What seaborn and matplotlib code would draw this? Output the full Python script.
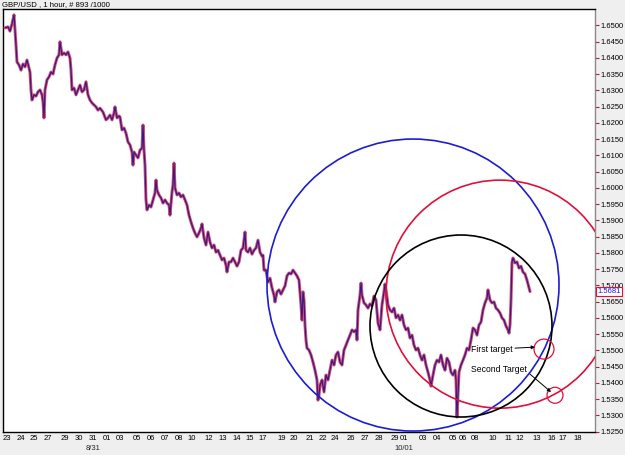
import numpy as np
import pandas as pd
import matplotlib
matplotlib.use("Agg")
import matplotlib.pyplot as plt
import seaborn as sns
from matplotlib.patches import Ellipse
from matplotlib import transforms

# ---------------- data (hourly bar position, close price) ----------------
bar = [2, 5, 7, 9, 11, 12, 13, 14, 16, 18, 20, 22, 24, 26, 27, 28, 29, 31, 33, 35,
       37, 39, 40, 41, 42, 44, 46, 48, 50, 52, 54, 56, 57, 59, 61, 63, 65, 67, 68, 69,
       71, 73, 75, 77, 79, 81, 83, 85, 87, 89, 91, 93, 95, 97, 100, 103, 105, 107, 109, 111,
       112, 114, 116, 117, 119, 121, 123, 125, 127, 129, 130, 131, 133, 135, 137, 139, 140, 141, 142, 143,
       144, 146, 148, 150, 152, 153, 154, 156, 158, 160, 162, 164, 166, 167, 169, 170, 171, 172, 174, 176,
       178, 180, 182, 184, 186, 188, 190, 192, 194, 196, 198, 199, 201, 203, 205, 207, 209, 211, 213, 215,
       217, 219, 221, 223, 224, 226, 228, 230, 232, 234, 236, 238, 240, 242, 243, 245, 247, 249, 251, 253,
       255, 257, 259, 260, 261, 263, 265, 267, 269, 271, 272, 274, 276, 278, 280, 282, 284, 286, 288, 290,
       292, 294, 296, 297, 298, 299, 300, 301, 302, 303, 304, 306, 308, 310, 312, 314, 315, 316, 317, 319,
       321, 323, 325, 327, 329, 331, 333, 335, 337, 339, 341, 343, 345, 347, 349, 351, 353, 354, 355, 357,
       358, 359, 361, 363, 365, 367, 369, 371, 373, 375, 377, 379, 381, 382, 383, 385, 387, 389, 391, 393,
       395, 397, 399, 401, 403, 405, 407, 409, 411, 413, 415, 417, 419, 421, 423, 425, 427, 428, 430, 432,
       434, 436, 438, 440, 442, 444, 446, 448, 450, 452, 453, 454, 455, 456, 458, 460, 462, 464, 466, 468,
       470, 472, 474, 476, 478, 480, 482, 484, 485, 487, 489, 491, 493, 495, 497, 499, 501, 503, 505, 506,
       507, 508, 509, 510, 512, 514, 516, 518, 520, 522, 524, 526, 527]
price = [1.6492, 1.6495, 1.6482, 1.6504, 1.6532, 1.6486, 1.6439, 1.6387, 1.6378, 1.6362,
         1.6381, 1.6372, 1.6393, 1.6369, 1.6356, 1.6301, 1.6270, 1.6286, 1.6282, 1.6295,
         1.6301, 1.6286, 1.6264, 1.6215, 1.6301, 1.6332, 1.6341, 1.6356, 1.6350, 1.6378,
         1.6399, 1.6409, 1.6449, 1.6409, 1.6415, 1.6409, 1.6418, 1.6399, 1.6362, 1.6301,
         1.6307, 1.6286, 1.6301, 1.6316, 1.6295, 1.6301, 1.6326, 1.6286, 1.6270, 1.6261,
         1.6255, 1.6249, 1.6239, 1.6245, 1.6233, 1.6209, 1.6215, 1.6224, 1.6209, 1.6230,
         1.6249, 1.6215, 1.6221, 1.6218, 1.6178, 1.6184, 1.6168, 1.6141, 1.6132, 1.6110,
         1.6070, 1.6110, 1.6101, 1.6092, 1.6116, 1.6122, 1.6193, 1.6116, 1.6070, 1.5963,
         1.5932, 1.5947, 1.5941, 1.5963, 1.5984, 1.6024, 1.5993, 1.5978, 1.5969, 1.5953,
         1.5963, 1.5953, 1.5947, 1.5916, 1.5987, 1.6009, 1.6076, 1.6000, 1.5978, 1.5984,
         1.5972, 1.5978, 1.5963, 1.5947, 1.5916, 1.5895, 1.5876, 1.5861, 1.5849, 1.5861,
         1.5876, 1.5889, 1.5846, 1.5824, 1.5864, 1.5833, 1.5815, 1.5824, 1.5802, 1.5808,
         1.5793, 1.5778, 1.5784, 1.5762, 1.5741, 1.5772, 1.5772, 1.5784, 1.5772, 1.5759,
         1.5772, 1.5808, 1.5815, 1.5864, 1.5808, 1.5802, 1.5815, 1.5796, 1.5808, 1.5815,
         1.5839, 1.5802, 1.5790, 1.5793, 1.5747, 1.5747, 1.5710, 1.5722, 1.5692, 1.5670,
         1.5649, 1.5680, 1.5686, 1.5673, 1.5686, 1.5698, 1.5729, 1.5738, 1.5735, 1.5747,
         1.5738, 1.5729, 1.5716, 1.5680, 1.5640, 1.5593, 1.5680, 1.5655, 1.5578, 1.5532,
         1.5507, 1.5501, 1.5486, 1.5464, 1.5439, 1.5409, 1.5347, 1.5362, 1.5393, 1.5409,
         1.5372, 1.5424, 1.5409, 1.5439, 1.5470, 1.5455, 1.5486, 1.5495, 1.5464, 1.5455,
         1.5501, 1.5516, 1.5532, 1.5547, 1.5563, 1.5557, 1.5563, 1.5532, 1.5624, 1.5670,
         1.5707, 1.5670, 1.5646, 1.5640, 1.5630, 1.5643, 1.5637, 1.5667, 1.5655, 1.5584,
         1.5563, 1.5640, 1.5680, 1.5704, 1.5686, 1.5640, 1.5624, 1.5618, 1.5630, 1.5600,
         1.5609, 1.5593, 1.5609, 1.5578, 1.5563, 1.5569, 1.5538, 1.5547, 1.5516, 1.5501,
         1.5507, 1.5486, 1.5470, 1.5486, 1.5455, 1.5433, 1.5409, 1.5390, 1.5424, 1.5455,
         1.5470, 1.5464, 1.5486, 1.5455, 1.5439, 1.5476, 1.5464, 1.5433, 1.5424, 1.5439,
         1.5409, 1.5295, 1.5362, 1.5433, 1.5455, 1.5470, 1.5486, 1.5507, 1.5501, 1.5532,
         1.5569, 1.5563, 1.5547, 1.5578, 1.5587, 1.5624, 1.5646, 1.5661, 1.5686, 1.5655,
         1.5646, 1.5649, 1.5630, 1.5624, 1.5615, 1.5600, 1.5593, 1.5575, 1.5563, 1.5553,
         1.5578, 1.5655, 1.5772, 1.5784, 1.5769, 1.5772, 1.5753, 1.5759, 1.5741, 1.5735,
         1.5716, 1.5692, 1.5681]

# x-axis day labels
tick_pos = [4, 18, 31, 45, 62, 76, 90, 104, 117, 134, 148, 162, 176, 189, 206, 220, 234, 247, 260, 279, 291,
            307, 320, 332, 348, 362, 376, 392, 401, 420, 434, 450, 460, 472, 490, 505, 517, 534, 549, 560, 575]
tick_lab = ["23", "24", "25", "27", "29", "30", "31", "01", "03", "05", "06", "07", "08", "10", "12", "13",
            "14", "15", "17", "19", "20", "21", "22", "24", "26", "27", "28", "29", "01", "03", "04", "05",
            "06", "08", "10", "11", "12", "13", "16", "17", "18"]
month_pos = [90, 401]
month_lab = ["8/31", "10/01"]
y_ticks = [1.5250, 1.5300, 1.5350, 1.5400, 1.5450, 1.5500, 1.5550, 1.5600, 1.5650, 1.5700,
           1.5750, 1.5800, 1.5850, 1.5900, 1.5950, 1.6000, 1.6050, 1.6100, 1.6150, 1.6200,
           1.6250, 1.6300, 1.6350, 1.6400, 1.6450, 1.6500]

# drawn circles: centre (bar, price) and radius in bars
circle_bar = [410, 497, 458]
circle_price = [1.5701, 1.5673, 1.5575]
circle_radius = [146, 114, 91]
circle_color = ["#1c1cd4", "#e0103a", "#000000"]

target_bar = [541, 552]
target_price = [1.5504, 1.5362]
target_radius = [10, 8]
target_text = ["First target", "Second Target"]
text_bar = [510, 524]
text_price = [1.5504, 1.5442]
arrow_from_bar = [512, 527]
arrow_from_price = [1.5507, 1.5427]
arrow_to_bar = [532, 548]
arrow_to_price = [1.5510, 1.5372]

last_price = 1.5681
title = "GBP/USD , 1 hour, # 893 /1000"

# ---------------- figure ----------------
sns.set_theme(style="white")
plt.rcParams["font.family"] = ["Liberation Sans", "DejaVu Sans"]

W, H = 625, 455
fig = plt.figure(figsize=(W / 100, H / 100), dpi=100, facecolor="#efefef")
ax = fig.add_axes([3 / W, 23 / H, 592 / W, 423 / H])
ax.set_facecolor("white")

df = pd.DataFrame({"bar": bar, "price": price})
sns.lineplot(data=df, x="bar", y="price", ax=ax, color="#d8506e", lw=2.2,
             estimator=None, sort=False, zorder=3)
sns.lineplot(data=df, x="bar", y="price", ax=ax, color="#38198a", lw=0.9,
             estimator=None, sort=False, zorder=4)

xmin, xmax = 0, 592
ymin, ymax = 1.5249, 1.6550
ax.set_xlim(xmin, xmax)
ax.set_ylim(ymin, ymax)

# circles (round on screen)
ratio = ((ymax - ymin) / 423) / ((xmax - xmin) / 592)
for cb, cp, r, c in zip(circle_bar, circle_price, circle_radius, circle_color):
    ax.add_patch(Ellipse((cb, cp), 2 * r, 2 * r * ratio, fill=False, ec=c, lw=1.2, zorder=5))
for tb, tp, r in zip(target_bar, target_price, target_radius):
    ax.add_patch(Ellipse((tb, tp), 2 * r, 2 * r * ratio, fill=False, ec="#e0103a", lw=0.9, zorder=5))

for txt, xb, yp, fb, fp, tb, tp in zip(target_text, text_bar, text_price, arrow_from_bar,
                                         arrow_from_price, arrow_to_bar, arrow_to_price):
    ax.text(xb, yp, txt, ha="right", va="center", fontsize=6.2, color="black", zorder=6)
    ax.annotate("", xy=(tb, tp), xytext=(fb, fp),
                arrowprops=dict(arrowstyle="-|>", color="black", lw=0.7,
                                mutation_scale=5, shrinkA=0, shrinkB=0), zorder=6)

# axes styling
ax.set_xlabel("")
ax.set_ylabel("")
ax.yaxis.tick_right()
ax.set_yticks(y_ticks)
ax.set_yticklabels([f"{v:.4f}" for v in y_ticks])
ax.set_xticks(tick_pos)
ax.set_xticklabels(tick_lab)
ax.tick_params(axis="both", direction="out", width=0.8, color="#b02038",
               labelsize=5.5, labelcolor="black")
ax.tick_params(axis="y", length=3, pad=1)
ax.tick_params(axis="x", length=2, pad=0.5)
for s in ["top", "left", "bottom"]:
    ax.spines[s].set_color("black")
    ax.spines[s].set_linewidth(1.0)
ax.spines["right"].set_color("#8a8a8a")
ax.spines["right"].set_linewidth(1.0)

bt = transforms.blended_transform_factory(ax.transData, ax.transAxes)
for p, l in zip(month_pos, month_lab):
    ax.text(p, -16.5 / 423, l, transform=bt, ha="center", va="center", fontsize=5.5, clip_on=False)

rt = transforms.blended_transform_factory(ax.transAxes, ax.transData)
ax.text(1.004, last_price, f"{last_price:.4f}", transform=rt, ha="left", va="center",
        fontsize=5.5, color="#1c1cd4", clip_on=False, zorder=7,
        bbox=dict(boxstyle="square,pad=0.15", fc="white", ec="#e0103a", lw=0.8))

fig.text(2 / W, 1 - 5 / H, title, ha="left", va="center", fontsize=5.6, color="black")

fig.savefig("out.png", dpi=100, facecolor=fig.get_facecolor())
